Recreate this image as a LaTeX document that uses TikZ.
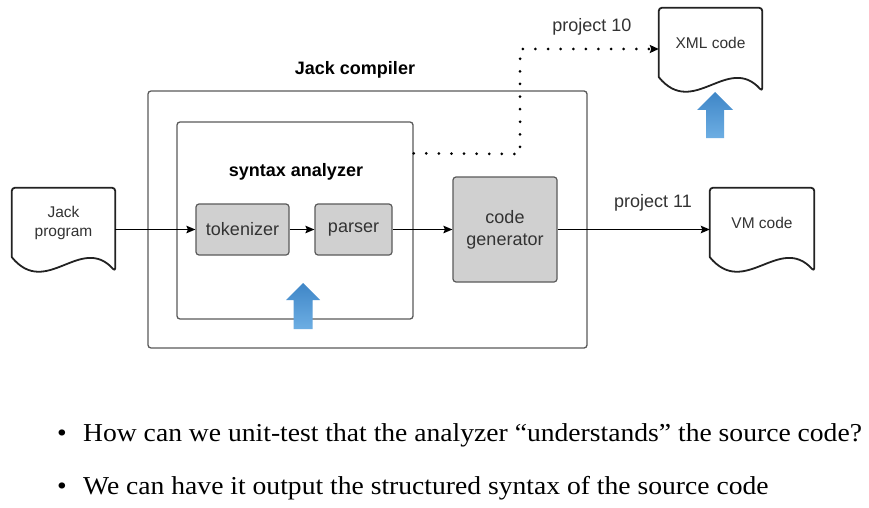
\documentclass[tikz,border=0pt]{standalone}
\usepackage{fontspec}
\setmainfont{Liberation Sans}
\newfontfamily\bulletfont[FakeStretch=1.07]{Liberation Serif}
\usetikzlibrary{arrows.meta,calc}
\definecolor{boxline}{HTML}{5A5A5A}
\definecolor{boxfill}{HTML}{D0D0D0}
\definecolor{txt}{HTML}{333333}
\definecolor{docdraw}{HTML}{222222}
\definecolor{bluetop}{HTML}{3F86C7}
\definecolor{bluebot}{HTML}{6DAEE3}
\tikzset{
  frame/.style={draw=boxline, line width=1.3pt, rounded corners=3pt, fill=white, inner sep=0pt},
  graybox/.style={draw=boxline, fill=boxfill, line width=1.2pt, rounded corners=3pt, inner sep=0pt,
    align=center, text=txt, font=\fontsize{18}{22}\selectfont},
  docnode/.style={inner sep=0pt, align=center, text=txt, font=\fontsize{15.5}{19}\selectfont},
  docline/.style={draw=docdraw, line width=1.8pt, line join=round},
  conn/.style={draw=black, line width=1.4pt, -{Stealth[length=9pt,width=7.5pt,inset=1.5pt]}},
  dotline/.style={draw=black, line width=3pt, line cap=round, dash pattern=on 0pt off 12.6pt,
    -{Stealth[length=9pt,width=8pt,inset=1.5pt]}},
  boldlabel/.style={text=black, font=\bfseries\fontsize{18}{22}\selectfont},
  projlabel/.style={text=txt, font=\fontsize{18}{22}\selectfont},
  bullettext/.style={anchor=base west, inner sep=0pt, text=black, font=\bulletfont\fontsize{25.8}{30}\selectfont},
  bluearrow/.style={top color=bluetop, bottom color=bluebot, draw=none}
}
\newcommand\docshape[1]{%
  \draw[docline, rounded corners=3pt] (#1.south west) -- (#1.north west) -- (#1.north east)
    -- ([yshift=-14pt]#1.south east) [sharp corners]
    .. controls ($([yshift=-14pt]#1.south east)!1/3!([yshift=-14pt]#1.south west)+(0,38pt)$)
    and ($([yshift=-14pt]#1.south east)!2/3!([yshift=-14pt]#1.south west)+(0,-28pt)$) .. cycle;
}
\begin{document}
\begin{tikzpicture}[x=1pt,y=-1pt]
\useasboundingbox (0,0) rectangle (869,508);
\fill[white] (0,0) rectangle (869,508);

% frames
\node[frame, minimum width=439pt, minimum height=257pt] (comp) at (367.5,219.5) {};
\node[boldlabel] (complabel) at (355,70) {Jack compiler};
\node[frame, minimum width=236pt, minimum height=197pt] (sa) at (295,220.5) {};
\node[boldlabel] (salabel) at (296,172) {syntax analyzer};

% gray boxes
\node[graybox, minimum width=93pt, minimum height=51pt] (tok) at (242.5,229.5) {tokenizer};
\node[graybox, minimum width=77pt, minimum height=51pt] (par) at (353.5,229.5) {parser};
\node[graybox, minimum width=104pt, minimum height=105pt] (cg) at (505,229.5) {code\\generator};

% documents
\node[docnode, minimum width=103pt, minimum height=69pt] (jack) at (63.5,222.5) {Jack\\program};
\node[docnode, minimum width=104pt, minimum height=69pt] (vm) at (762,222.5) {VM code};
\node[docnode, minimum width=103pt, minimum height=69pt] (xml) at (710.5,42.5) {XML code};
\docshape{jack}
\docshape{vm}
\docshape{xml}

% connectors
\draw[conn] (jack.east |- tok.west) -- (tok.west);
\draw[conn] (tok.east) -- (par.west);
\draw[conn] (par.east) -- (cg.west);
\draw[conn] (cg.east) -- (vm.west |- cg.east);
\coordinate (dstart) at ([yshift=-32pt]sa.north east);
\coordinate (dcorner) at (520,154);
\draw[dotline] (dstart) -- (dcorner) |- ([yshift=-6.5pt]xml.west);

\node[projlabel] (p10) at (592,27) {project 10};
\node[projlabel] (p11) at (653,203) {project 11};

% blue arrows
\shade[bluearrow] (303,283) -- (320,300) -- (312.5,300) -- (312.5,329) -- (293.5,329)
  -- (293.5,300) -- (286,300) -- cycle;
\shade[bluearrow] (715,92) -- (733,110) -- (724,110) -- (724,138) -- (706,138)
  -- (706,110) -- (697,110) -- cycle;

% bullets
\node[bullettext] (b1) at (57,441) {\makebox[26pt][l]{•}How can we unit-test that the analyzer “understands” the source code?};
\node[bullettext] (b2) at (57,494) {\makebox[26pt][l]{•}We can have it output the structured syntax of the source code};
\end{tikzpicture}
\end{document}
